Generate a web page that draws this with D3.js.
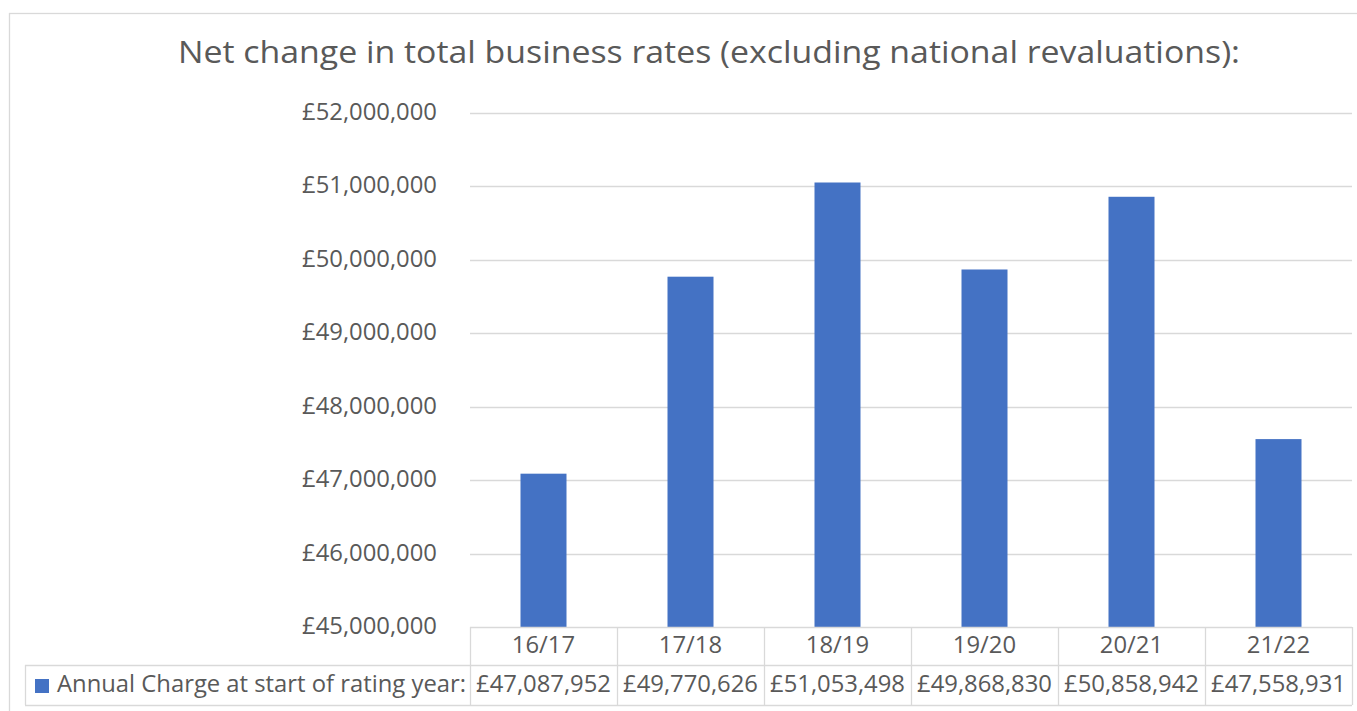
<!DOCTYPE html>
<html><head><meta charset="utf-8">
<script src="https://cdn.jsdelivr.net/npm/d3@7"></script>
<style>body{margin:0;background:#fff;} text{font-family:"Open Sans",sans-serif;fill:#595959;}</style>
</head><body><svg id="c" width="1357" height="711"></svg>
<script>
const categories = ["16/17","17/18","18/19","19/20","20/21","21/22"];
const values = [47087952,49770626,51053498,49868830,50858942,47558931];
const yTicks = [45000000,46000000,47000000,48000000,49000000,50000000,51000000,52000000];
const seriesName = "Annual Charge at start of rating year:";
const title = "Net change in total business rates (excluding national revaluations):";

(function(){
const svg = d3.select("#c");
const fmt = v => "£" + d3.format(",")(v);
const grid = "#d9d9d9";
const pLeft = 470, pRight = 1352, pTop = 113, pBottom = 627;
const fs = 24.5, tfs = 31.5;

svg.append("rect").attr("x",9.5).attr("y",13.5).attr("width",1360).attr("height",720)
  .attr("fill","none").attr("stroke",grid).attr("stroke-width",1.3);

// horizontal compression so widths match the reference
function squeeze(sel, ratio){ sel.each(function(){ const w = this.getComputedTextLength(); d3.select(this).attr("textLength", w*ratio).attr("lengthAdjust","spacingAndGlyphs"); }); }

const y = d3.scaleLinear().domain([45000000,52000000]).range([pBottom, pTop]);
const x = d3.scaleBand().domain(categories).range([pLeft, pRight]).paddingInner(0).paddingOuter(0);

// title
const t = svg.append("text").attr("x",(178+1240)/2).attr("y",63).attr("text-anchor","middle").attr("font-size",tfs).text(title);
squeeze(t, 1062/t.node().getComputedTextLength());

// grid
svg.append("g").selectAll("line").data(yTicks.slice(1)).join("line")
  .attr("x1",pLeft).attr("x2",pRight).attr("y1",d=>Math.round(y(d))+0.5).attr("y2",d=>Math.round(y(d))+0.5)
  .attr("stroke",grid).attr("stroke-width",1.3);

// ratio from y label
const probe = svg.append("text").attr("font-size",fs).text(fmt(52000000));
const ratio = 135/probe.node().getComputedTextLength(); probe.remove();

const yl = svg.append("g").selectAll("text").data(yTicks).join("text")
  .attr("x",437).attr("y",d=>y(d)+7).attr("text-anchor","end").attr("font-size",fs).text(fmt);
squeeze(yl, ratio);

// bars
const bw = 46;
svg.append("g").selectAll("rect").data(values).join("rect")
  .attr("x",(d,i)=>x(categories[i])+x.bandwidth()/2-bw/2).attr("width",bw)
  .attr("y",d=>y(d)).attr("height",d=>pBottom-y(d)).attr("fill","#4472C4");

// table
const r1 = 627, r2 = 665, r3 = 705, tl = 25;
const tg = svg.append("g").attr("stroke",grid).attr("stroke-width",1.3);
tg.append("line").attr("x1",pLeft).attr("x2",pRight).attr("y1",r1+0.5).attr("y2",r1+0.5);
tg.append("line").attr("x1",tl).attr("x2",pRight).attr("y1",r2+0.5).attr("y2",r2+0.5);
tg.append("line").attr("x1",tl).attr("x2",pRight).attr("y1",r3+0.5).attr("y2",r3+0.5);
tg.append("line").attr("x1",tl+0.5).attr("x2",tl+0.5).attr("y1",r2).attr("y2",r3);
tg.selectAll("line.v").data(categories.concat(["end"])).join("line").attr("class","v")
  .attr("x1",(d,i)=>Math.round(pLeft+i*x.step())+0.5).attr("x2",(d,i)=>Math.round(pLeft+i*x.step())+0.5)
  .attr("y1",r1).attr("y2",r3);

const ct = svg.append("g").selectAll("text").data(categories).join("text")
  .attr("x",d=>x(d)+x.bandwidth()/2).attr("y",(r1+r2)/2+6.7).attr("text-anchor","middle").attr("font-size",fs).text(d=>d);
squeeze(ct, ratio);
const vt = svg.append("g").selectAll("text").data(values).join("text")
  .attr("x",(d,i)=>x(categories[i])+x.bandwidth()/2).attr("y",(r2+r3)/2+6.7).attr("text-anchor","middle").attr("font-size",fs).text(fmt);
squeeze(vt, ratio);

svg.append("rect").attr("x",35).attr("y",679).attr("width",14).attr("height",14).attr("fill","#4472C4");
const lt = svg.append("text").attr("x",57).attr("y",(r2+r3)/2+6.7).attr("font-size",fs).text(seriesName);
squeeze(lt, 409/lt.node().getComputedTextLength());
})();
</script></body></html>
